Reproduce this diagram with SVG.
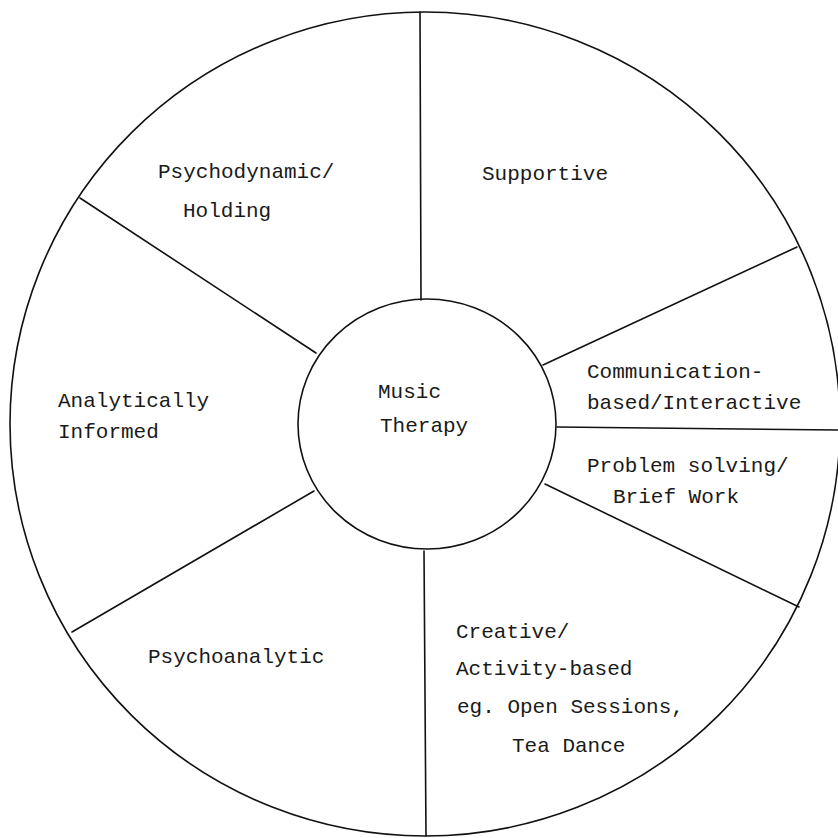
<svg xmlns="http://www.w3.org/2000/svg" width="838" height="838" viewBox="0 0 838 838">
<style>
.ln{stroke:#111;stroke-width:1.6;fill:none;stroke-linecap:round}
.t{font-family:"Liberation Mono","Courier New",monospace;font-size:21px;letter-spacing:0px;fill:#1a1a1a}
</style>
<rect width="838" height="838" fill="#fff"/>
<g id="outer"><ellipse class="ln" cx="425" cy="424" rx="415" ry="412"/></g>
<g id="connectors">
<line class="ln" x1="420" y1="12" x2="421" y2="300"/>
<line class="ln" x1="80" y1="198" x2="316" y2="353"/>
<line class="ln" x1="797" y1="247" x2="543" y2="365"/>
<line class="ln" x1="557" y1="427" x2="838" y2="430"/>
<line class="ln" x1="545" y1="484" x2="799" y2="607"/>
<line class="ln" x1="424" y1="551" x2="426" y2="836"/>
<line class="ln" x1="314" y1="491" x2="72" y2="632"/>
</g>
<g id="center"><ellipse class="ln" cx="427" cy="424" rx="129" ry="125"/>
<text class="t" x="378" y="398">Music</text><text class="t" x="380" y="432">Therapy</text></g>
<g id="psychodynamic"><text class="t" x="158" y="178">Psychodynamic/</text><text class="t" x="183" y="217">Holding</text></g>
<g id="supportive"><text class="t" x="482" y="180">Supportive</text></g>
<g id="communication"><text class="t" x="587" y="378">Communication-</text><text class="t" x="587" y="409">based/Interactive</text></g>
<g id="problem"><text class="t" x="587" y="472">Problem solving/</text><text class="t" x="613" y="503">Brief Work</text></g>
<g id="creative"><text class="t" x="456" y="638">Creative/</text><text class="t" x="456" y="675">Activity-based</text><text class="t" x="457" y="713">eg. Open Sessions,</text><text class="t" x="512" y="752">Tea Dance</text></g>
<g id="psychoanalytic"><text class="t" x="148" y="663">Psychoanalytic</text></g>
<g id="analytically"><text class="t" x="58" y="407">Analytically</text><text class="t" x="58" y="438">Informed</text></g>
</svg>
